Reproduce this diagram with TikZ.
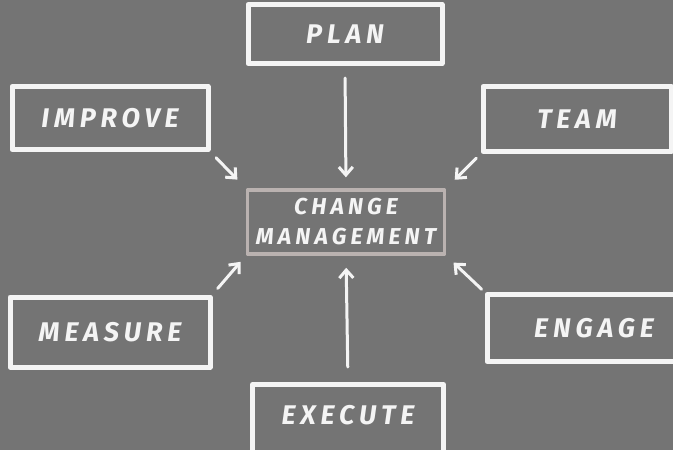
\documentclass[tikz,border=0pt]{standalone}
\usepackage{fontspec}
\setmainfont{Fira Sans}
\newfontfamily\chalkfont{Fira Sans}[LetterSpace=18]
\usepackage{xcolor}
\definecolor{BoardGray}{RGB}{116, 116, 116}
\definecolor{ChalkWhite}{RGB}{244, 244, 244}
\definecolor{ChalkPale}{RGB}{186, 178, 176}
\usepackage{tikz}
\usetikzlibrary{arrows.meta}

\begin{document}
\begin{tikzpicture}[x=1pt,y=-1pt,>={Straight Barb[length=8pt,width=14pt]},
                    line cap=round,line join=round]
  \tikzstyle{board}=[draw=ChalkWhite,line width=5pt,text=ChalkWhite,inner sep=0pt,
                     font=\chalkfont\bfseries\itshape\fontsize{27}{32}\selectfont]
  \tikzstyle{hub}=[board,draw=ChalkPale,line width=3.5pt,align=center,
                   font=\chalkfont\bfseries\itshape\fontsize{23}{30}\selectfont]
  \tikzstyle{chalk}=[->,draw=ChalkWhite,line width=3pt]

  \clip (0,0) rectangle (673,450);
  \fill[BoardGray] (0,0) rectangle (673,450);

  \node[hub, minimum width=197, minimum height=64]   (Change)  at (346,222) {CHANGE\\MANAGEMENT};
  \node[board, minimum width=194, minimum height=59] (Plan)    at (345,34)  {PLAN};
  \node[board, minimum width=196, minimum height=63] (Improve) at (110,118) {IMPROVE};
  \node[board, minimum width=188, minimum height=65] (Team)    at (577,119) {TEAM};
  \node[board, minimum width=200, minimum height=70] (Measure) at (110,332) {MEASURE};
  \node[board, minimum width=214, minimum height=67] (Engage)  at (594,328) {ENGAGE};
  \node[board, minimum width=191, text height=19pt, text depth=60pt,
        inner ysep=21pt, anchor=north]               (Execute) at (348,382) {EXECUTE};

  \path (Plan.south)          edge [chalk, shorten <=12pt, shorten >=11pt] (Change.north)
        (Improve.south east)  edge [chalk, shorten <=8pt,  shorten >=12pt] (Change.north west)
        (Team.south west)     edge [chalk, shorten <=6pt,  shorten >=12pt] (Change.north east)
        (Measure.north east)  edge [chalk, shorten <=8pt,  shorten >=8pt]  (Change.south west)
        (Engage.north west)   edge [chalk, shorten <=4pt,  shorten >=10pt] (Change.south east)
        (Execute.north)       edge [chalk, shorten <=15pt, shorten >=12pt] (Change.south);
\end{tikzpicture}
\end{document}
